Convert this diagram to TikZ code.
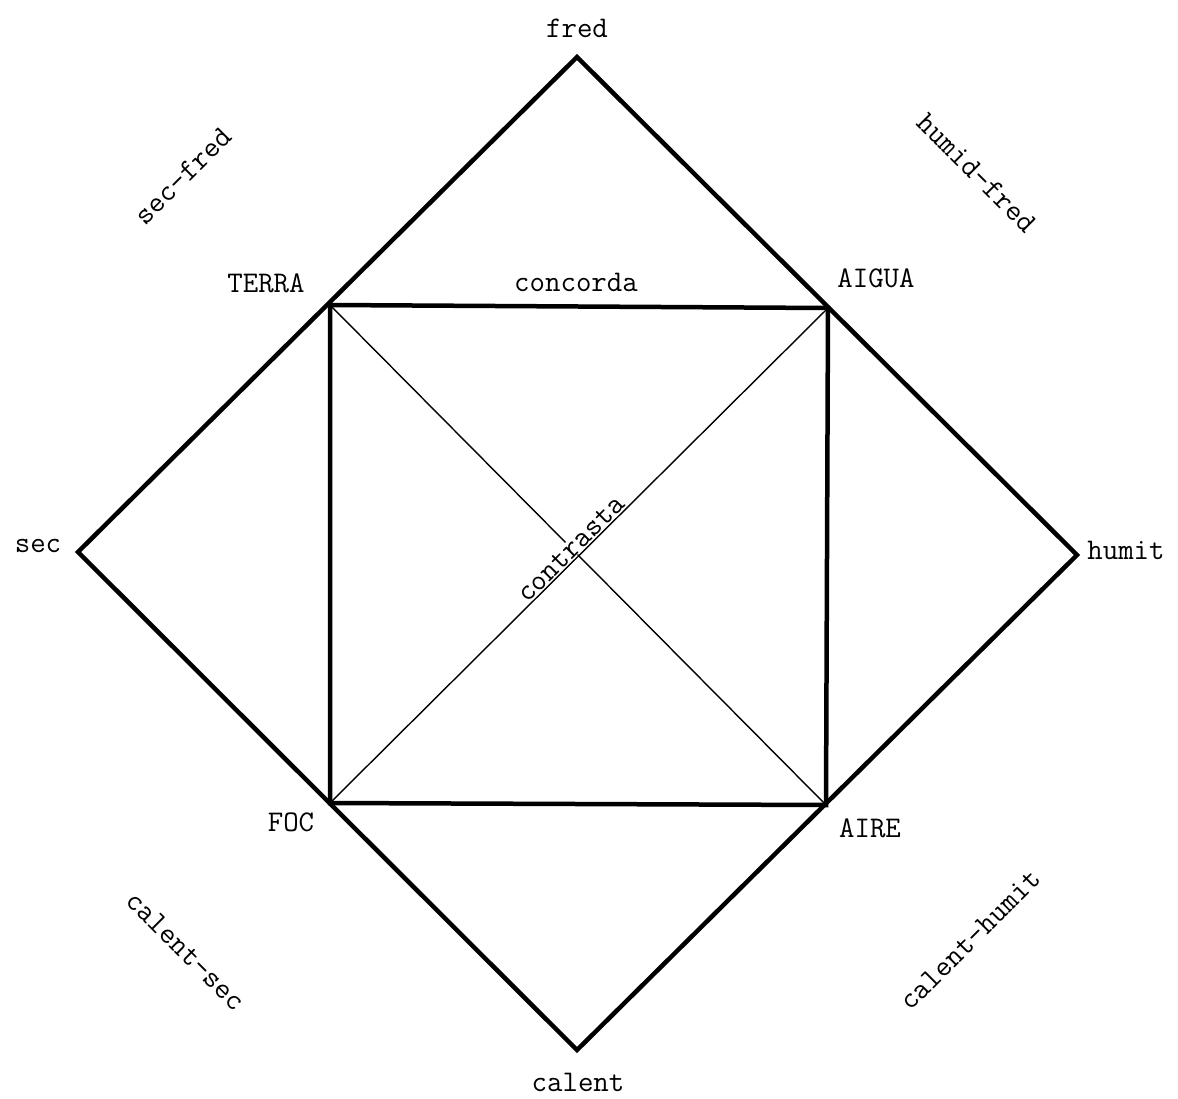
\documentclass[tikz,border=0pt]{standalone}
\begin{document}
\begin{tikzpicture}[x=1pt,y=-1pt,
  thick line/.style={line width=4.5pt,line join=miter},
  thin line/.style={line width=1.4pt},
  lbl/.style={font=\ttfamily\fontsize{30}{34}\selectfont,inner sep=1pt},
  pt/.style={inner sep=0pt,minimum size=0pt}]
\useasboundingbox (0,0) rectangle (1178,1098);
% vertices
\coordinate (fred) at (577,57);
\coordinate (sec) at (78,552);
\coordinate (humit) at (1077,555);
\coordinate (calent) at (577,1050);
\coordinate (terra) at (330,305);
\coordinate (aigua) at (828,308);
\coordinate (foc) at (330,803);
\coordinate (aire) at (826,805);
% outer diamond
\draw[thick line] (fred) -- (humit) -- (calent) -- (sec) -- cycle;
% inner square
\draw[thick line] (terra) -- (aigua) -- (aire) -- (foc) -- cycle;
% diagonals
\draw[thin line] (terra) -- (aire);
\node[lbl,rotate=45,fill=white,inner sep=0pt] (contrasta) at (571,549) {contrasta};
\draw[thin line] (foc) -- (aigua);
% labels
\node[lbl] (lfred) at (577,28) {fred};
\node[lbl] (lsec) at (38,546) {sec};
\node[lbl] (lhumit) at (1126,550) {humit};
\node[lbl] (lcalent) at (578,1082) {calent};
\node[lbl] (lterra) at (266,283) {TERRA};
\node[lbl] (laigua) at (876,278) {AIGUA};
\node[lbl] (lfoc) at (291,822) {FOC};
\node[lbl] (laire) at (870,828) {AIRE};
\node[lbl] (concorda) at (576,282) {concorda};
\node[lbl,rotate=45] (secfred) at (183,176) {sec-fred};
\node[lbl,rotate=-45] (humidfred) at (977,173) {humid-fred};
\node[lbl,rotate=-45] (calentsec) at (186,951) {calent-sec};
\node[lbl,rotate=45] (calenthumit) at (970,940) {calent-humit};
\end{tikzpicture}
\end{document}
